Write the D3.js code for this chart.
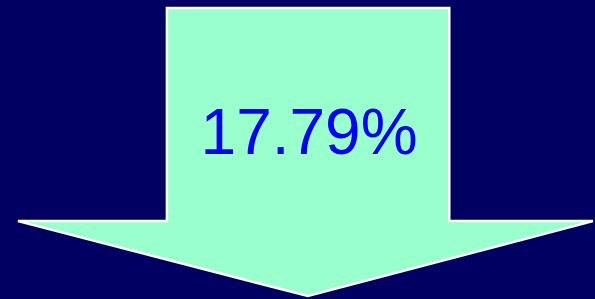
<!DOCTYPE html>
<html>
<head>
<meta charset="utf-8">
<script src="https://cdn.jsdelivr.net/npm/d3@7"></script>
<style>
  html, body { margin: 0; padding: 0; background: #000063; }
  svg { display: block; }
</style>
</head>
<body>
<svg></svg>
<script>
var labels = ["17.79%"];
var values = [17.79];

var svgWidth = 595, svgHeight = 299;
var svg = d3.select("svg")
    .attr("width", svgWidth)
    .attr("height", svgHeight);

// arrow outline in unit space (0..1 both ways)
var xs = d3.scaleLinear().domain([0, 1]).range([18, 593]);
var ys = d3.scaleLinear().domain([0, 1]).range([8, 296]);

var shaftL = 0.259, shaftR = 0.750, headTop = 0.74, tipX = 0.504;
var outline = [
    [shaftL, 0], [shaftR, 0], [shaftR, headTop], [1, headTop],
    [tipX, 1], [0, headTop], [shaftL, headTop]
];

var line = d3.line()
    .x(function(d) { return xs(d[0]); })
    .y(function(d) { return ys(d[1]); })
    .curve(d3.curveLinearClosed);

svg.append("rect")
    .attr("width", svgWidth)
    .attr("height", svgHeight)
    .attr("fill", "#000063");

svg.append("path")
    .attr("d", line(outline))
    .attr("fill", "#99FFCC")
    .attr("stroke", "#ffffff")
    .attr("stroke-width", 2.5)
    .attr("stroke-linejoin", "miter");

svg.selectAll("text.val")
    .data(values)
    .enter()
    .append("text")
    .attr("class", "val")
    .attr("x", xs((shaftL + shaftR) / 2) + 1)
    .attr("y", 154)
    .attr("text-anchor", "middle")
    .attr("font-family", "Liberation Sans, Arial, sans-serif")
    .attr("font-size", 64)
    .attr("fill", "#0000FF")
    .text(function(d, i) { return labels[i]; });
</script>
</body>
</html>
